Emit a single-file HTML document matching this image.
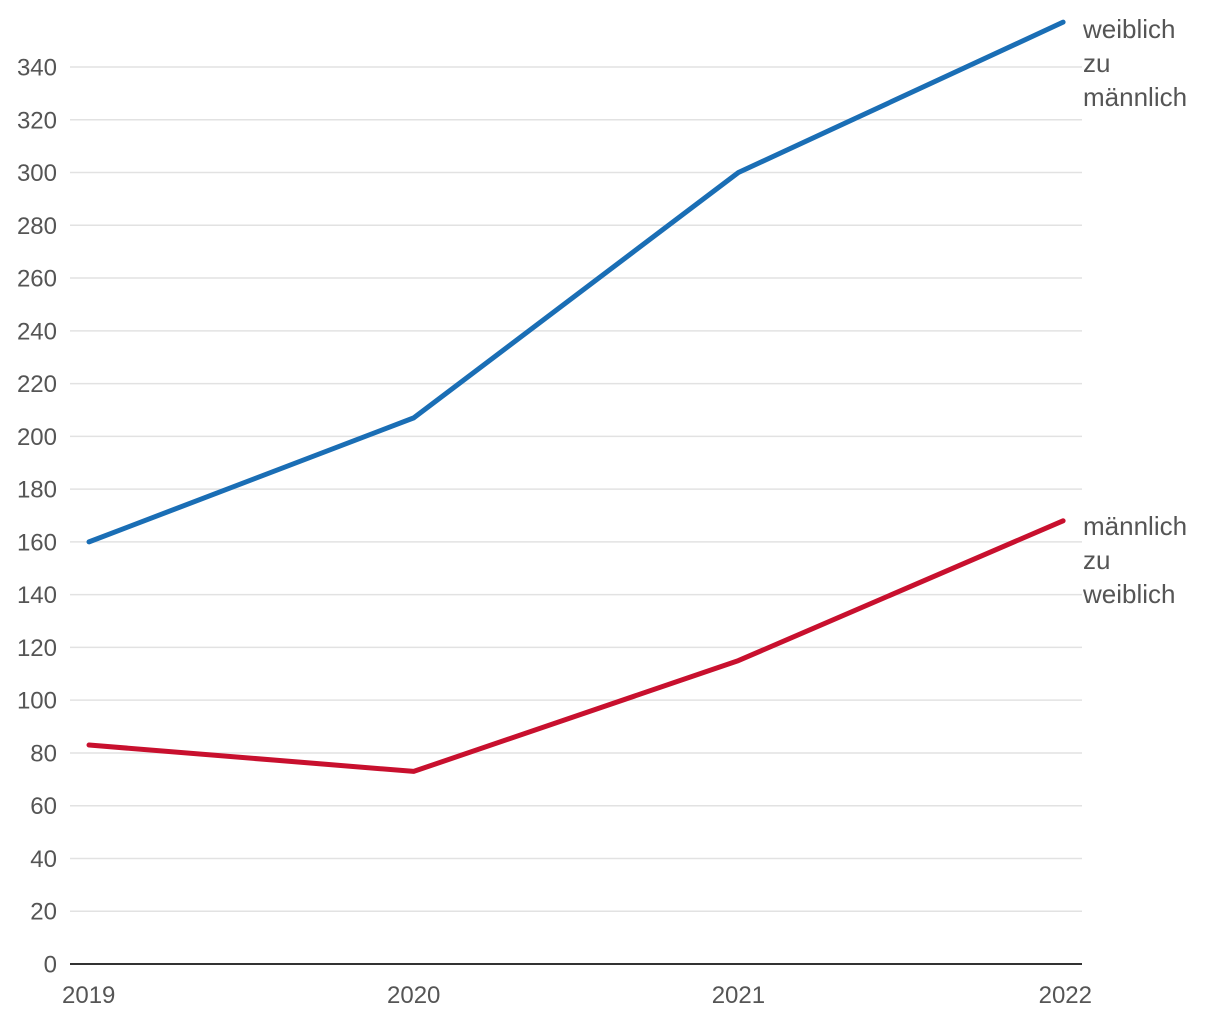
<!DOCTYPE html>
<html><head><meta charset="utf-8"><style>
body{margin:0;background:#fff;font-family:"Liberation Sans",sans-serif}
svg text{font-family:"Liberation Sans",sans-serif;fill:#555}
</style></head><body>
<svg id="chart" width="1220" height="1020" xmlns="http://www.w3.org/2000/svg"></svg>
<script>
const years=["2019","2020","2021","2022"];
const seriesA=[160,207,300,357];
const seriesB=[83,73,115,168];
const yTicks=[0,20,40,60,80,100,120,140,160,180,200,220,240,260,280,300,320,340];
const labelA=["weiblich","zu","männlich"];
const labelB=["männlich","zu","weiblich"];
const NS="http://www.w3.org/2000/svg";
const svg=document.getElementById('chart');
const y=v=>964-v*(897/340);
const x=i=>89+i*324.7;
function mk(t,a,p){const e=document.createElementNS(NS,t);for(const k in a)e.setAttribute(k,a[k]);(p||svg).appendChild(e);return e;}
yTicks.forEach(v=>{
  if(v>0){const g=mk('line',{x1:70,x2:1082,y1:y(v),y2:y(v),stroke:'#e2e2e2','stroke-width':1.5});
  
  }
  const t=mk('text',{x:57,y:y(v)+8.5,'text-anchor':'end','font-size':24});t.textContent=v;
  
  
});
const ax=mk('line',{x1:70,x2:1082,y1:964,y2:964,stroke:'#333','stroke-width':2});


years.forEach((yr,i)=>{
  const anchor=i==0?'start':i==years.length-1?'end':'middle';
  const xx=i==0?62:i==years.length-1?1092:x(i);
  const t=mk('text',{x:xx,y:1003,'text-anchor':anchor,'font-size':24});t.textContent=yr;
  
  
});
function line(vals,color,name){
  const p=mk('polyline',{points:vals.map((v,i)=>x(i)+','+y(v)).join(' '),fill:'none',stroke:color,'stroke-width':5,'stroke-linecap':'round','stroke-linejoin':'round'});
  
  
}
line(seriesA,'#1a6eb5','line-weiblich-zu-maennlich');
line(seriesB,'#c8102e','line-maennlich-zu-weiblich');
function lab(lines,top,name){
  const t=mk('text',{x:1083,y:top,'font-size':26});
  
  
  lines.forEach((l,i)=>{const s=mk('tspan',{x:1083,dy:i?34:0},t);s.textContent=l;});
}
lab(labelA,38,'label-weiblich-zu-maennlich');
lab(labelB,535,'label-maennlich-zu-weiblich');
</script>
</body></html>
